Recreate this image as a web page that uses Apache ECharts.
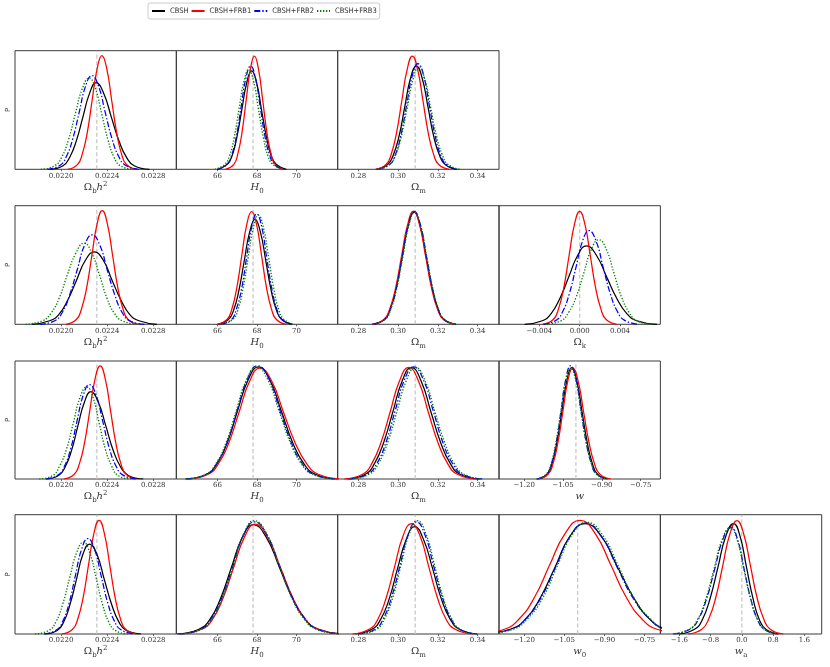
<!DOCTYPE html>
<html>
<head>
<meta charset="utf-8">
<script src="https://cdn.jsdelivr.net/npm/echarts@6/dist/echarts.min.js"></script>
<style>
html,body{margin:0;padding:0;background:#fff;}
#main{width:830px;height:667px;}
</style>
</head>
<body>
<div id="main"></div>
<script>
// ---------------- data ----------------
const SERIES_NAMES = ['CBSH', 'CBSH+FRB1', 'CBSH+FRB2', 'CBSH+FRB3'];

// tick values and labels
const TICKS_OBH2 = [0.0220, 0.0224, 0.0228];
const LABELS_OBH2 = ['0.0220', '0.0224', '0.0228'];
const TICKS_H0 = [66, 68, 70];
const LABELS_H0 = ['66', '68', '70'];
const TICKS_OM = [0.28, 0.30, 0.32, 0.34];
const LABELS_OM = ['0.28', '0.30', '0.32', '0.34'];
const TICKS_OK = [-0.004, 0, 0.004];
const LABELS_OK = ['\u22120.004', '0.000', '0.004'];
const TICKS_W = [-1.20, -1.05, -0.90, -0.75];
const LABELS_W = ['\u22121.20', '\u22121.05', '\u22120.90', '\u22120.75'];
const TICKS_WA = [-1.6, -0.8, 0, 0.8, 1.6];
const LABELS_WA = ['\u22121.6', '\u22120.8', '0.0', '0.8', '1.6'];

// fiducial (dashed grey) values
const FID_OBH2 = 0.02231;
const FID_H0 = 67.8;
const FID_OM = 0.3086;
const FID_OK = 0;
const FID_W = -1.0;
const FID_W0 = -1.0;
const FID_WA = 0;

// each curve: [x values], [P values] (P in units of panel height)
// Row 1
const R1_OBH2_CBSH = [[0.021902,0.022017,0.022074,0.022132,0.022189,0.022247,0.022304,0.02237,0.022436,0.022502,0.022568,0.022634,0.022766],[0,0.03,0.10,0.24,0.44,0.64,0.73,0.64,0.44,0.24,0.10,0.03,0]];
const R1_OBH2_FRB1 = [[0.022057,0.022142,0.022184,0.022227,0.022269,0.022312,0.022354,0.022397,0.022439,0.022482,0.022524,0.022567,0.022652],[0,0.04,0.13,0.31,0.58,0.845,0.958,0.845,0.58,0.31,0.13,0.04,0]];
const R1_OBH2_FRB2 = [[0.021882,0.021992,0.022047,0.022102,0.022157,0.022212,0.022267,0.022325,0.022383,0.022441,0.022499,0.022557,0.022673],[0,0.035,0.11,0.26,0.48,0.70,0.79,0.70,0.48,0.26,0.11,0.035,0]];
const R1_OBH2_FRB3 = [[0.021824,0.021944,0.022004,0.022064,0.022124,0.022184,0.022244,0.022298,0.022352,0.022406,0.02246,0.022514,0.022622],[0,0.03,0.10,0.25,0.47,0.68,0.77,0.68,0.47,0.25,0.10,0.03,0]];

const R1_H0_CBSH = [[65.98,66.48,66.73,66.98,67.23,67.48,67.73,67.98,68.23,68.48,68.73,68.98,69.48],[0,0.04,0.11,0.27,0.50,0.73,0.83,0.73,0.50,0.27,0.11,0.04,0]];
const R1_H0_FRB1 = [[66.40,66.82,67.03,67.24,67.45,67.66,67.87,68.08,68.29,68.50,68.71,68.92,69.34],[0,0.04,0.13,0.31,0.58,0.84,0.955,0.84,0.58,0.31,0.13,0.04,0]];
const R1_H0_FRB2 = [[66.00,66.48,66.72,66.96,67.20,67.44,67.68,67.92,68.16,68.40,68.64,68.88,69.36],[0,0.04,0.12,0.28,0.53,0.77,0.87,0.77,0.53,0.28,0.12,0.04,0]];
const R1_H0_FRB3 = [[65.87,66.36,66.60,66.85,67.09,67.34,67.58,67.83,68.07,68.32,68.56,68.81,69.30],[0,0.04,0.11,0.27,0.51,0.74,0.84,0.74,0.51,0.27,0.11,0.04,0]];

const R1_OM_CBSH = [[0.2889,0.2947,0.2976,0.3005,0.3034,0.3063,0.3092,0.3121,0.3150,0.3179,0.3208,0.3237,0.3295],[0,0.04,0.12,0.28,0.53,0.77,0.87,0.77,0.53,0.28,0.12,0.04,0]];
const R1_OM_FRB1 = [[0.28865,0.29395,0.2966,0.29925,0.3019,0.30455,0.3072,0.30985,0.3125,0.31515,0.3178,0.32045,0.32575],[0,0.04,0.13,0.31,0.58,0.84,0.955,0.84,0.58,0.31,0.13,0.04,0]];
const R1_OM_FRB2 = [[0.29005,0.29575,0.2986,0.30145,0.3043,0.30715,0.3100,0.31285,0.3157,0.31855,0.3214,0.32425,0.32995],[0,0.04,0.12,0.29,0.54,0.79,0.89,0.79,0.54,0.29,0.12,0.04,0]];
const R1_OM_FRB3 = [[0.28985,0.29575,0.2987,0.30165,0.3046,0.30755,0.3105,0.31345,0.3164,0.31935,0.3223,0.32525,0.33115],[0,0.04,0.12,0.28,0.52,0.76,0.865,0.76,0.52,0.28,0.12,0.04,0]];

// Row 2
const R2_OBH2_CBSH = [[0.021746,0.021901,0.021978,0.022056,0.022133,0.022211,0.022288,0.022366,0.022443,0.022521,0.022598,0.022676,0.022831],[0,0.03,0.08,0.20,0.37,0.54,0.61,0.54,0.37,0.20,0.08,0.03,0]];
const R2_OBH2_FRB1 = [[0.022042,0.022132,0.022177,0.022222,0.022267,0.022312,0.022357,0.022402,0.022447,0.022492,0.022537,0.022582,0.022672],[0,0.04,0.13,0.31,0.58,0.845,0.958,0.845,0.58,0.31,0.13,0.04,0]];
const R2_OBH2_FRB2 = [[0.021815,0.021945,0.02201,0.022075,0.02214,0.022205,0.02227,0.022335,0.0224,0.022465,0.02253,0.022595,0.022725],[0,0.03,0.10,0.25,0.46,0.67,0.755,0.67,0.46,0.25,0.10,0.03,0]];
const R2_OBH2_FRB3 = [[0.021693,0.021838,0.02191,0.021983,0.022055,0.022128,0.0222,0.022266,0.022332,0.022398,0.022464,0.02253,0.022662],[0,0.03,0.09,0.22,0.42,0.60,0.685,0.60,0.42,0.22,0.09,0.03,0]];

const R2_H0_CBSH = [[66.01,66.55,66.82,67.09,67.36,67.63,67.90,68.17,68.44,68.71,68.98,69.25,69.79],[0,0.04,0.12,0.29,0.54,0.78,0.885,0.78,0.54,0.29,0.12,0.04,0]];
const R2_H0_FRB1 = [[65.98,66.48,66.73,66.98,67.23,67.48,67.73,67.98,68.23,68.48,68.73,68.98,69.48],[0,0.04,0.13,0.31,0.58,0.84,0.95,0.84,0.58,0.31,0.13,0.04,0]];
const R2_H0_FRB2 = [[66.20,66.71,66.96,67.22,67.47,67.73,67.98,68.24,68.49,68.75,69.00,69.26,69.77],[0,0.04,0.13,0.30,0.56,0.82,0.93,0.82,0.56,0.30,0.13,0.04,0]];
const R2_H0_FRB3 = [[66.25,66.77,67.03,67.29,67.55,67.81,68.07,68.33,68.59,68.85,69.11,69.37,69.89],[0,0.04,0.12,0.30,0.56,0.81,0.92,0.81,0.56,0.30,0.12,0.04,0]];

const R2_OM_CBSH = [[0.2871,0.2931,0.2961,0.2991,0.3021,0.3051,0.3081,0.3111,0.3141,0.3171,0.3201,0.3231,0.3291],[0,0.04,0.13,0.31,0.57,0.83,0.945,0.83,0.57,0.31,0.13,0.04,0]];
const R2_OM_FRB1 = [[0.2868,0.2928,0.2958,0.2988,0.3018,0.3048,0.3078,0.3108,0.3138,0.3168,0.3198,0.3228,0.3288],[0,0.04,0.13,0.31,0.58,0.84,0.955,0.84,0.58,0.31,0.13,0.04,0]];
const R2_OM_FRB2 = [[0.2872,0.2932,0.2962,0.2992,0.3022,0.3052,0.3082,0.3112,0.3142,0.3172,0.3202,0.3232,0.3292],[0,0.04,0.13,0.31,0.58,0.84,0.95,0.84,0.58,0.31,0.13,0.04,0]];
const R2_OM_FRB3 = [[0.2874,0.2934,0.2964,0.2994,0.3024,0.3054,0.3084,0.3114,0.3144,0.3174,0.3204,0.3234,0.3294],[0,0.04,0.13,0.31,0.57,0.83,0.945,0.83,0.57,0.31,0.13,0.04,0]];

const R2_OK_CBSH = [[-0.005455,-0.003705,-0.00283,-0.001955,-0.00108,-0.000205,0.00067,0.00167,0.00267,0.00367,0.00467,0.00567,0.00767],[0,0.03,0.09,0.22,0.40,0.58,0.662,0.58,0.40,0.22,0.09,0.03,0]];
const R2_OK_FRB1 = [[-0.003675,-0.002625,-0.0021,-0.001575,-0.00105,-0.000525,0,0.000525,0.00105,0.001575,0.0021,0.002625,0.003675],[0,0.04,0.13,0.31,0.58,0.84,0.952,0.84,0.58,0.31,0.13,0.04,0]];
const R2_OK_FRB2 = [[-0.00362,-0.00232,-0.00167,-0.00102,-0.00037,0.00028,0.00093,0.00163,0.00233,0.00303,0.00373,0.00443,0.00583],[0,0.035,0.11,0.26,0.48,0.70,0.79,0.70,0.48,0.26,0.11,0.035,0]];
const R2_OK_FRB3 = [[-0.00335,-0.00185,-0.0011,-0.00035,0.0004,0.00115,0.0019,0.00265,0.0034,0.00415,0.0049,0.00565,0.00715],[0,0.03,0.10,0.23,0.43,0.63,0.713,0.63,0.43,0.23,0.10,0.03,0]];

// Row 3
const R3_OBH2_CBSH = [[0.021866,0.021978,0.022034,0.02209,0.022146,0.022202,0.022258,0.022323,0.022388,0.022453,0.022518,0.022583,0.022713],[0,0.03,0.10,0.24,0.45,0.65,0.74,0.65,0.45,0.24,0.10,0.03,0]];
const R3_OBH2_FRB1 = [[0.022024,0.022114,0.022159,0.022204,0.022249,0.022294,0.022339,0.022384,0.022429,0.022474,0.022519,0.022564,0.022654],[0,0.04,0.13,0.31,0.58,0.845,0.958,0.845,0.58,0.31,0.13,0.04,0]];
const R3_OBH2_FRB2 = [[0.021868,0.021976,0.02203,0.022084,0.022138,0.022192,0.022246,0.022304,0.022361,0.022419,0.022476,0.022534,0.022649],[0,0.035,0.11,0.26,0.49,0.71,0.80,0.71,0.49,0.26,0.11,0.035,0]];
const R3_OBH2_FRB3 = [[0.02181,0.021928,0.021987,0.022046,0.022105,0.022164,0.022223,0.022277,0.022331,0.022385,0.022439,0.022493,0.022601],[0,0.03,0.11,0.25,0.47,0.69,0.78,0.69,0.47,0.25,0.11,0.03,0]];

const R3_H0_CBSH = [[64.40,65.45,65.97,66.50,67.02,67.55,68.07,68.65,69.22,69.80,70.37,70.95,72.10],[0,0.04,0.13,0.31,0.58,0.84,0.95,0.84,0.58,0.31,0.13,0.04,0]];
const R3_H0_FRB1 = [[64.48,65.53,66.05,66.58,67.10,67.63,68.15,68.74,69.33,69.92,70.51,71.10,72.28],[0,0.04,0.13,0.31,0.57,0.83,0.94,0.83,0.57,0.31,0.13,0.04,0]];
const R3_H0_FRB2 = [[64.43,65.46,65.97,66.49,67.00,67.52,68.03,68.60,69.16,69.73,70.29,70.86,71.99],[0,0.04,0.13,0.31,0.58,0.85,0.96,0.85,0.58,0.31,0.13,0.04,0]];
const R3_H0_FRB3 = [[64.38,65.41,65.92,66.44,66.95,67.47,67.98,68.55,69.11,69.68,70.24,70.81,71.94],[0,0.04,0.13,0.31,0.58,0.84,0.95,0.84,0.58,0.31,0.13,0.04,0]];

const R3_OM_CBSH = [[0.27415,0.28345,0.2881,0.29275,0.2974,0.30205,0.3067,0.3116,0.3165,0.3214,0.3263,0.3312,0.341],[0,0.04,0.13,0.31,0.57,0.83,0.946,0.83,0.57,0.31,0.13,0.04,0]];
const R3_OM_FRB1 = [[0.2728,0.2821,0.28675,0.2914,0.29605,0.3007,0.30535,0.31025,0.31515,0.32005,0.32495,0.32985,0.33965],[0,0.04,0.13,0.31,0.57,0.83,0.946,0.83,0.57,0.31,0.13,0.04,0]];
const R3_OM_FRB2 = [[0.2753,0.2846,0.28925,0.2939,0.29855,0.3032,0.30785,0.31275,0.31765,0.32255,0.32745,0.33235,0.34215],[0,0.04,0.13,0.31,0.58,0.84,0.95,0.84,0.58,0.31,0.13,0.04,0]];
const R3_OM_FRB3 = [[0.27615,0.28545,0.2901,0.29475,0.2994,0.30405,0.3087,0.3136,0.3185,0.3234,0.3283,0.3332,0.343],[0,0.04,0.13,0.31,0.57,0.83,0.946,0.83,0.57,0.31,0.13,0.04,0]];

const R3_W_CBSH = [[-1.1494,-1.1114,-1.0924,-1.0734,-1.0544,-1.0354,-1.0164,-0.9964,-0.9764,-0.9564,-0.9364,-0.9164,-0.8764],[0,0.04,0.13,0.31,0.57,0.83,0.944,0.83,0.57,0.31,0.13,0.04,0]];
const R3_W_FRB1 = [[-1.1455,-1.1075,-1.0885,-1.0695,-1.0505,-1.0315,-1.0125,-0.9915,-0.9705,-0.9495,-0.9285,-0.9075,-0.8655],[0,0.04,0.13,0.31,0.57,0.83,0.94,0.83,0.57,0.31,0.13,0.04,0]];
const R3_W_FRB2 = [[-1.1498,-1.1128,-1.0943,-1.0758,-1.0573,-1.0388,-1.0203,-1.0003,-0.9803,-0.9603,-0.9403,-0.9203,-0.8803],[0,0.04,0.13,0.31,0.58,0.85,0.96,0.85,0.58,0.31,0.13,0.04,0]];
const R3_W_FRB3 = [[-1.1533,-1.1153,-1.0963,-1.0773,-1.0583,-1.0393,-1.0203,-1.0003,-0.9803,-0.9603,-0.9403,-0.9203,-0.8803],[0,0.04,0.13,0.31,0.57,0.83,0.94,0.83,0.57,0.31,0.13,0.04,0]];

// Row 4
const R4_OBH2_CBSH = [[0.021854,0.021966,0.022022,0.022078,0.022134,0.02219,0.022246,0.02231,0.022374,0.022438,0.022502,0.022566,0.022694],[0,0.03,0.10,0.25,0.46,0.67,0.754,0.67,0.46,0.25,0.10,0.03,0]];
const R4_OBH2_FRB1 = [[0.022008,0.0221,0.022146,0.022192,0.022238,0.022284,0.02233,0.022376,0.022422,0.022468,0.022514,0.02256,0.022652],[0,0.04,0.13,0.31,0.58,0.84,0.953,0.84,0.58,0.31,0.13,0.04,0]];
const R4_OBH2_FRB2 = [[0.021854,0.021962,0.022016,0.02207,0.022124,0.022178,0.022232,0.02229,0.022347,0.022405,0.022462,0.02252,0.022635],[0,0.035,0.11,0.26,0.49,0.71,0.80,0.71,0.49,0.26,0.11,0.035,0]];
const R4_OBH2_FRB3 = [[0.021774,0.021894,0.021954,0.022014,0.022074,0.022134,0.022194,0.022249,0.022304,0.022359,0.022414,0.022469,0.022579],[0,0.03,0.10,0.25,0.47,0.68,0.77,0.68,0.47,0.25,0.10,0.03,0]];

const R4_H0_CBSH = [[63.96,65.06,65.61,66.16,66.71,67.26,67.81,68.47,69.13,69.79,70.45,71.11,72.43],[0,0.04,0.12,0.30,0.56,0.81,0.916,0.81,0.56,0.30,0.12,0.04,0]];
const R4_H0_FRB1 = [[64.12,65.20,65.74,66.28,66.82,67.36,67.90,68.54,69.18,69.82,70.46,71.10,72.38],[0,0.04,0.12,0.30,0.56,0.81,0.92,0.81,0.56,0.30,0.12,0.04,0]];
const R4_H0_FRB2 = [[64.08,65.16,65.70,66.24,66.78,67.32,67.86,68.50,69.14,69.78,70.42,71.06,72.34],[0,0.04,0.13,0.31,0.57,0.83,0.94,0.83,0.57,0.31,0.13,0.04,0]];
const R4_H0_FRB3 = [[64.15,65.21,65.74,66.27,66.80,67.33,67.86,68.49,69.11,69.74,70.36,70.99,72.24],[0,0.04,0.13,0.31,0.58,0.84,0.95,0.84,0.58,0.31,0.13,0.04,0]];

const R4_OM_CBSH = [[0.27825,0.28685,0.29115,0.29545,0.29975,0.30405,0.30835,0.31285,0.31735,0.32185,0.32635,0.33085,0.33985],[0,0.04,0.12,0.29,0.55,0.79,0.90,0.79,0.55,0.29,0.12,0.04,0]];
const R4_OM_FRB1 = [[0.27695,0.28545,0.2897,0.29395,0.2982,0.30245,0.3067,0.3111,0.3155,0.3199,0.3243,0.3287,0.3375],[0,0.04,0.12,0.30,0.56,0.82,0.925,0.82,0.56,0.30,0.12,0.04,0]];
const R4_OM_FRB2 = [[0.28015,0.28845,0.2926,0.29675,0.3009,0.30505,0.3092,0.31355,0.3179,0.32225,0.3266,0.33095,0.33965],[0,0.04,0.13,0.31,0.57,0.83,0.94,0.83,0.57,0.31,0.13,0.04,0]];
const R4_OM_FRB3 = [[0.281,0.2892,0.2933,0.2974,0.3015,0.3056,0.3097,0.314,0.3183,0.3226,0.3269,0.3312,0.3398],[0,0.04,0.13,0.31,0.58,0.84,0.95,0.84,0.58,0.31,0.13,0.04,0]];

const R4_W0_CBSH = [[-1.3647,-1.2527,-1.1967,-1.1407,-1.0847,-1.0287,-0.9727,-0.9117,-0.8507,-0.7897,-0.7287,-0.6677,-0.5457],[0,0.04,0.12,0.30,0.56,0.82,0.925,0.82,0.56,0.30,0.12,0.04,0]];
const R4_W0_FRB1 = [[-1.3869,-1.2739,-1.2174,-1.1609,-1.1044,-1.0479,-0.9914,-0.9339,-0.8764,-0.8189,-0.7614,-0.7039,-0.5889],[0,0.04,0.13,0.31,0.58,0.84,0.953,0.84,0.58,0.31,0.13,0.04,0]];
const R4_W0_FRB2 = [[-1.3577,-1.2477,-1.1927,-1.1377,-1.0827,-1.0277,-0.9727,-0.9127,-0.8527,-0.7927,-0.7327,-0.6727,-0.5527],[0,0.04,0.13,0.30,0.56,0.82,0.93,0.82,0.56,0.30,0.13,0.04,0]];
const R4_W0_FRB3 = [[-1.3513,-1.2413,-1.1863,-1.1313,-1.0763,-1.0213,-0.9663,-0.9073,-0.8483,-0.7893,-0.7303,-0.6713,-0.5533],[0,0.04,0.13,0.30,0.57,0.83,0.936,0.83,0.57,0.30,0.13,0.04,0]];

const R4_WA_CBSH = [[-1.611,-1.211,-1.011,-0.811,-0.611,-0.411,-0.211,-0.046,0.119,0.284,0.449,0.614,0.944],[0,0.04,0.12,0.30,0.56,0.82,0.925,0.82,0.56,0.30,0.12,0.04,0]];
const R4_WA_FRB1 = [[-1.384,-1.024,-0.844,-0.664,-0.484,-0.304,-0.124,0.046,0.216,0.386,0.556,0.726,1.066],[0,0.04,0.13,0.31,0.58,0.84,0.95,0.84,0.58,0.31,0.13,0.04,0]];
const R4_WA_FRB2 = [[-1.748,-1.328,-1.118,-0.908,-0.698,-0.488,-0.278,-0.108,0.062,0.232,0.402,0.572,0.912],[0,0.04,0.12,0.29,0.54,0.79,0.894,0.79,0.54,0.29,0.12,0.04,0]];
const R4_WA_FRB3 = [[-1.766,-1.346,-1.136,-0.926,-0.716,-0.506,-0.296,-0.121,0.054,0.229,0.404,0.579,0.929],[0,0.04,0.12,0.29,0.54,0.79,0.89,0.79,0.54,0.29,0.12,0.04,0]];

// ---------------- layout / style ----------------
const COLORS = ['#000000', '#ff0000', '#0000ff', '#008000'];
const DASHES = ['solid', 'solid', [6, 2, 1.4, 2], [1.3, 1.7]];
const WIDTHS = [1.25, 1.25, 1.25, 1.35];

const COL_LEFT = [15, 176.34, 337.68, 499.02, 660.36];
const COL_W = 161.34;
const ROW_TOP = [50.7, 205.7, 361, 514.7];
const ROW_H = [118.6, 118.6, 118, 119.3];

const AXES = {
  obh2: {min: 0.0216, max: 0.0230, ticks: TICKS_OBH2, labels: LABELS_OBH2, name: '{o|\u03A9}{s|b}{i|h}{p|2}', fid: FID_OBH2},
  h0:   {min: 63.92, max: 72.08, ticks: TICKS_H0, labels: LABELS_H0, name: '{i|H}{s|0}', fid: FID_H0},
  om:   {min: 0.2696, max: 0.3508, ticks: TICKS_OM, labels: LABELS_OM, name: '{o|\u03A9}{s|m}', fid: FID_OM},
  ok:   {min: -0.008, max: 0.008, ticks: TICKS_OK, labels: LABELS_OK, name: '{o|\u03A9}{s|k}', fid: FID_OK},
  w:    {min: -1.297, max: -0.674, ticks: TICKS_W, labels: LABELS_W, name: '{i|w}', fid: FID_W},
  w0:   {min: -1.294, max: -0.691, ticks: TICKS_W, labels: LABELS_W, name: '{i|w}{s|0}', fid: FID_W0},
  wa:   {min: -2.086, max: 2.045, ticks: TICKS_WA, labels: LABELS_WA, name: '{i|w}{s|a}', fid: FID_WA}
};

const PANELS = [
  [0, 0, 'obh2', [R1_OBH2_CBSH, R1_OBH2_FRB1, R1_OBH2_FRB2, R1_OBH2_FRB3]],
  [0, 1, 'h0',   [R1_H0_CBSH, R1_H0_FRB1, R1_H0_FRB2, R1_H0_FRB3]],
  [0, 2, 'om',   [R1_OM_CBSH, R1_OM_FRB1, R1_OM_FRB2, R1_OM_FRB3]],
  [1, 0, 'obh2', [R2_OBH2_CBSH, R2_OBH2_FRB1, R2_OBH2_FRB2, R2_OBH2_FRB3]],
  [1, 1, 'h0',   [R2_H0_CBSH, R2_H0_FRB1, R2_H0_FRB2, R2_H0_FRB3]],
  [1, 2, 'om',   [R2_OM_CBSH, R2_OM_FRB1, R2_OM_FRB2, R2_OM_FRB3]],
  [1, 3, 'ok',   [R2_OK_CBSH, R2_OK_FRB1, R2_OK_FRB2, R2_OK_FRB3]],
  [2, 0, 'obh2', [R3_OBH2_CBSH, R3_OBH2_FRB1, R3_OBH2_FRB2, R3_OBH2_FRB3]],
  [2, 1, 'h0',   [R3_H0_CBSH, R3_H0_FRB1, R3_H0_FRB2, R3_H0_FRB3]],
  [2, 2, 'om',   [R3_OM_CBSH, R3_OM_FRB1, R3_OM_FRB2, R3_OM_FRB3]],
  [2, 3, 'w',    [R3_W_CBSH, R3_W_FRB1, R3_W_FRB2, R3_W_FRB3]],
  [3, 0, 'obh2', [R4_OBH2_CBSH, R4_OBH2_FRB1, R4_OBH2_FRB2, R4_OBH2_FRB3]],
  [3, 1, 'h0',   [R4_H0_CBSH, R4_H0_FRB1, R4_H0_FRB2, R4_H0_FRB3]],
  [3, 2, 'om',   [R4_OM_CBSH, R4_OM_FRB1, R4_OM_FRB2, R4_OM_FRB3]],
  [3, 3, 'w0',   [R4_W0_CBSH, R4_W0_FRB1, R4_W0_FRB2, R4_W0_FRB3]],
  [3, 4, 'wa',   [R4_WA_CBSH, R4_WA_FRB1, R4_WA_FRB2, R4_WA_FRB3]]
];

const SERIF = "'DejaVu Serif', 'Liberation Serif', serif";
const NAME_RICH = {
  o: {fontFamily: SERIF, fontSize: 10, color: '#333', lineHeight: 14},
  i: {fontFamily: SERIF, fontStyle: 'italic', fontSize: 10, color: '#333', lineHeight: 14},
  s: {fontFamily: SERIF, fontSize: 7, color: '#333', verticalAlign: 'bottom', lineHeight: 14},
  p: {fontFamily: SERIF, fontSize: 7, color: '#333', verticalAlign: 'top', lineHeight: 14}
};

function zip(curve) {
  return curve[0].map((x, k) => [x, curve[1][k]]);
}

const grids = [], xAxes = [], yAxes = [], series = [];
PANELS.forEach((p, i) => {
  const [row, col, key, curves] = p;
  const ax = AXES[key];
  grids.push({
    left: COL_LEFT[col], top: ROW_TOP[row], width: COL_W, height: ROW_H[row],
    show: true, borderColor: '#3a3a3a', borderWidth: 1, backgroundColor: 'transparent'
  });
  xAxes.push({
    type: 'value', gridIndex: i, min: ax.min, max: ax.max,
    axisLine: {show: false}, splitLine: {show: false},
    axisTick: {show: true, length: 2, customValues: ax.ticks, lineStyle: {color: '#444', width: 0.8}},
    axisLabel: {
      customValues: ax.ticks, margin: 3, fontSize: 7, fontFamily: SERIF, color: '#333',
      formatter: function (v) {
        let best = 0, d = Infinity;
        ax.ticks.forEach((t, k) => { const dd = Math.abs(t - v); if (dd < d) { d = dd; best = k; } });
        return ax.labels[best];
      }
    },
    name: ax.name, nameLocation: 'middle', nameGap: 9,
    nameTextStyle: {rich: NAME_RICH, lineHeight: 14}
  });
  yAxes.push({
    type: 'value', gridIndex: i, min: 0, max: 1,
    axisLine: {show: false}, axisTick: {show: false}, axisLabel: {show: false}, splitLine: {show: false},
    name: col === 0 ? 'P' : '', nameLocation: 'middle', nameGap: 3, nameRotate: 90,
    nameTextStyle: {fontSize: 7, fontFamily: "'DejaVu Sans', sans-serif", color: '#333'}
  });
  // fiducial dashed line
  series.push({
    type: 'line', xAxisIndex: i, yAxisIndex: i, data: [[ax.fid, 0], [ax.fid, 1]],
    symbol: 'none', silent: true, z: 1,
    lineStyle: {color: '#c4c4c4', width: 1.2, type: [4, 2.5]}
  });
  curves.forEach((c, s) => {
    series.push({
      type: 'line', name: SERIES_NAMES[s], xAxisIndex: i, yAxisIndex: i,
      data: zip(c), smooth: 0.5, symbol: 'none', showSymbol: false,
      silent: true, z: 2 + s, clip: true,
      lineStyle: {color: COLORS[s], width: WIDTHS[s], type: DASHES[s]},
      itemStyle: {color: COLORS[s]}
    });
  });
});

const chart = echarts.init(document.getElementById('main'), null, {renderer: 'canvas'});
chart.setOption({
  animation: false,
  backgroundColor: '#ffffff',
  legend: {
    data: SERIES_NAMES, left: 148, top: 3, orient: 'horizontal',
    itemWidth: 13, itemHeight: 8, itemGap: 2, padding: [4, 3],
    itemStyle: {opacity: 0},
    borderColor: '#cccccc', borderWidth: 1, borderRadius: 2, selectedMode: false,
    textStyle: {fontSize: 7.5, fontFamily: "'DejaVu Sans Condensed', 'Liberation Sans Narrow', 'DejaVu Sans', sans-serif", color: '#333'}
  },
  grid: grids,
  xAxis: xAxes,
  yAxis: yAxes,
  series: series
});
</script>
</body>
</html>
